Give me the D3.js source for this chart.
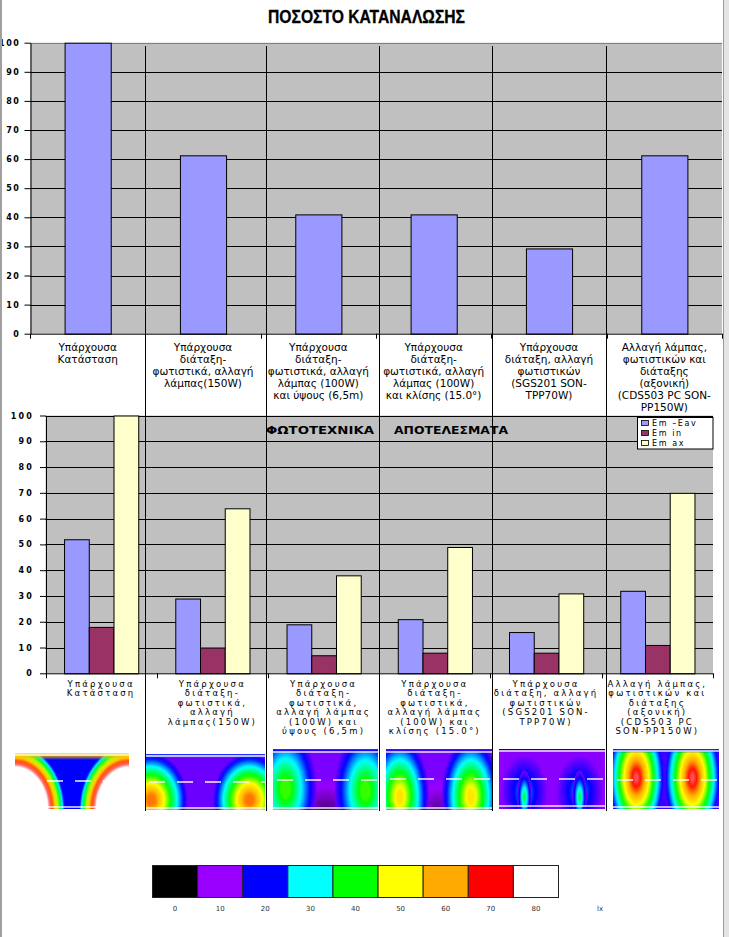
<!DOCTYPE html>
<html><head><meta charset="utf-8">
<script src="https://cdn.jsdelivr.net/npm/d3@7"></script>
<style>body{margin:0;background:#fff}svg{display:block}</style>
</head><body><svg id="c" width="729" height="937"></svg>
<script>
// ---------------- data ----------------
const titleText = "ΠΟΣΟΣΤΟ ΚΑΤΑΝΑΛΩΣΗΣ";
const subTitleParts = ["ΦΩΤΟΤΕΧΝΙΚΑ", "ΑΠΟΤΕΛΕΣΜΑΤΑ"];
const topLabels = [
  ["Υπάρχουσα", "Κατάσταση"],
  ["Υπάρχουσα", "διάταξη-", "φωτιστικά, αλλαγή", "λάμπας(150W)"],
  ["Υπάρχουσα", "διάταξη-", "φωτιστικά, αλλαγή", "λάμπας (100W)", "και ύψους (6,5m)"],
  ["Υπάρχουσα", "διάταξη-", "φωτιστικά, αλλαγή", "λάμπας (100W)", "και κλίσης (15.0°)"],
  ["Υπάρχουσα", "διάταξη, αλλαγή", "φωτιστικών", "(SGS201 SON-", "TPP70W)"],
  ["Αλλαγή λάμπας,", "φωτιστικών και", "διάταξης", "(αξονική)", "(CDS503 PC SON-", "PP150W)"]
];
const bottomLabels = [
  ["Υπάρχουσα", "Κατάσταση"],
  ["Υπάρχουσα", "διάταξη-", "φωτιστικά,", "αλλαγή", "λάμπας(150W)"],
  ["Υπάρχουσα", "διάταξη-", "φωτιστικά,", "αλλαγή λάμπας", "(100W) και", "ύψους (6,5m)"],
  ["Υπάρχουσα", "διάταξη-", "φωτιστικά,", "αλλαγή λάμπας", "(100W) και", "κλίσης (15.0°)"],
  ["Υπάρχουσα", "διάταξη, αλλαγή", "φωτιστικών", "(SGS201 SON-", "TPP70W)"],
  ["Αλλαγή λάμπας,", "φωτιστικών και", "διάταξης", "(αξονική)", "(CDS503 PC", "SON-PP150W)"]
];
const consumption = [100, 61.3, 41, 41, 29.3, 61.3];
const seriesNames = ["Em –Eav", "Em in", "Em ax"];
const emEav = [52, 29, 19, 21, 16, 32];
const emMin = [18, 10, 7, 8, 8, 11];
const emMax = [100, 64, 38, 49, 31, 70];
const yTickValues = [0, 10, 20, 30, 40, 50, 60, 70, 80, 90, 100];
const scaleLevels = [0, 10, 20, 30, 40, 50, 60, 70, 80];
const scaleUnit = "lx";

// ---------------- styles ----------------
const barBlue = "#9999ff", barMaroon = "#993366", barYellow = "#ffffcc", plotGray = "#c0c0c0";
const seriesColors = [barBlue, barMaroon, barYellow];
const scaleColors = ["#000000", "#9900ff", "#0000ff", "#00ffff", "#00ff00", "#ffff00", "#ffaa00", "#ff0000", "#ffffff"];
const FONT = "'DejaVu Sans', Verdana, sans-serif";

const svg = d3.select("#c");
svg.append("rect").attr("width", 729).attr("height", 937).attr("fill", "#fff");

// ---------------- top chart ----------------
const T = {l: 30, r: 722, t: 42.7, b: 333.7};
const xTop = d3.scaleBand().domain(d3.range(consumption.length)).range([T.l, T.r]).paddingInner(0.6).paddingOuter(0.3);
const yTop = d3.scaleLinear().domain([0, 100]).range([T.b, T.t]);
const gt = svg.append("g");
gt.append("rect").attr("x", T.l).attr("y", T.t).attr("width", T.r - T.l).attr("height", T.b - T.t).attr("fill", plotGray);
gt.selectAll("line.grid").data(yTickValues.filter(v => v > 0)).join("line")
  .attr("x1", T.l).attr("x2", T.r).attr("y1", d => Math.round(yTop(d)) + 0.5).attr("y2", d => Math.round(yTop(d)) + 0.5)
  .attr("stroke", d => d === 100 ? "#808080" : "#000").attr("stroke-width", 1);
gt.selectAll("rect.bar").data(consumption).join("rect")
  .attr("x", (d, i) => xTop(i) + 0.5).attr("y", d => yTop(d) + 0.5)
  .attr("width", xTop.bandwidth()).attr("height", d => yTop(0) - yTop(d))
  .attr("fill", barBlue).attr("stroke", "#000").attr("stroke-width", 1);
const axTop = gt.append("g").attr("transform", `translate(${T.l + 0.5},0)`)
  .call(d3.axisLeft(yTop).tickValues(yTickValues).tickSize(6).tickPadding(4).tickSizeOuter(0));
axTop.selectAll("text").attr("font-family", FONT).attr("font-size", 8).attr("font-weight", "bold").attr("letter-spacing", 1.6).attr("fill", "#000");
axTop.select(".domain").attr("stroke", "#000");
gt.append("line").attr("x1", T.l).attr("x2", T.r).attr("y1", T.b + 0.5).attr("y2", T.b + 0.5).attr("stroke", "#000");
gt.selectAll("line.tb").data(d3.range(consumption.length + 1)).join("line")
  .attr("x1", i => Math.round(T.l + i * xTop.step()) + 0.5).attr("x2", i => Math.round(T.l + i * xTop.step()) + 0.5)
  .attr("y1", T.b).attr("y2", T.b + 5).attr("stroke", "#000");
topLabels.forEach((lines, i) => {
  const cx = xTop(i) + xTop.bandwidth() / 2;
  const t = gt.append("text").attr("font-family", FONT).attr("font-size", 10.5).attr("text-anchor", "middle").attr("fill", "#000");
  lines.forEach((s, k) => t.append("tspan").attr("x", cx).attr("y", 351 + k * 12).text(s));
});

// title
svg.append("text").attr("x", 268).attr("y", 23).attr("textLength", 197).attr("lengthAdjust", "spacingAndGlyphs")
  .attr("font-family", "'Liberation Sans Narrow', 'Liberation Sans', Arial, sans-serif").attr("font-weight", "bold")
  .attr("font-size", 17.5).attr("fill", "#000").attr("stroke", "#000").attr("stroke-width", 0.3).text(titleText);

// ---------------- bottom chart ----------------
const B = {l: 45.5, r: 713, t: 415.5, b: 673.3};
const xBot = d3.scaleBand().domain(d3.range(emEav.length)).range([B.l, B.r]).paddingInner(0.333).paddingOuter(0.1667);
const xSub = d3.scaleBand().domain(d3.range(3)).range([0, xBot.bandwidth()]);
const yBot = d3.scaleLinear().domain([0, 100]).range([B.b, B.t]);
const gb = svg.append("g");
gb.append("rect").attr("x", B.l).attr("y", B.t).attr("width", B.r - B.l).attr("height", B.b - B.t).attr("fill", plotGray);
gb.selectAll("line.grid").data(yTickValues.filter(v => v > 0)).join("line")
  .attr("x1", B.l).attr("x2", B.r).attr("y1", d => Math.round(yBot(d)) + 0.5).attr("y2", d => Math.round(yBot(d)) + 0.5)
  .attr("stroke", "#000");
const series = [emEav, emMin, emMax];
series.forEach((vals, s) => {
  gb.selectAll(`rect.s${s}`).data(vals).join("rect")
    .attr("x", (d, i) => xBot(i) + xSub(s) + 0.5).attr("y", d => yBot(d) + 0.5)
    .attr("width", xSub.bandwidth()).attr("height", d => yBot(0) - yBot(d))
    .attr("fill", seriesColors[s]).attr("stroke", "#000").attr("stroke-width", 1);
});
const axBot = gb.append("g").attr("transform", `translate(${B.l + 0.5},0)`)
  .call(d3.axisLeft(yBot).tickValues(yTickValues).tickSize(6).tickPadding(6).tickSizeOuter(0));
axBot.selectAll("text").attr("font-family", FONT).attr("font-size", 8).attr("font-weight", "bold").attr("letter-spacing", 2.2).attr("fill", "#000");
axBot.select(".domain").attr("stroke", "#000");
gb.append("line").attr("x1", B.l).attr("x2", B.r).attr("y1", B.b + 0.5).attr("y2", B.b + 0.5).attr("stroke", "#000");
gb.selectAll("line.tb").data(d3.range(emEav.length + 1)).join("line")
  .attr("x1", i => Math.round(B.l + i * xBot.step()) + 0.5).attr("x2", i => Math.round(B.l + i * xBot.step()) + 0.5)
  .attr("y1", B.b).attr("y2", B.b + 5).attr("stroke", "#000");
bottomLabels.forEach((lines, i) => {
  const cx = xBot(i) + xBot.bandwidth() / 2;
  const t = gb.append("text").attr("font-family", FONT).attr("font-size", 8.5).attr("letter-spacing", 2.2)
    .attr("text-anchor", "middle").attr("fill", "#000");
  lines.forEach((s, k) => t.append("tspan").attr("x", cx).attr("y", 687 + k * 9.4).text(s));
});
const st = gb.append("g").attr("font-family", FONT).attr("font-weight", "bold").attr("font-size", 11).attr("fill", "#000");
st.append("text").attr("x", 266).attr("y", 434).attr("textLength", 108).attr("lengthAdjust", "spacingAndGlyphs").text(subTitleParts[0]);
st.append("text").attr("x", 394).attr("y", 434).attr("textLength", 114).attr("lengthAdjust", "spacingAndGlyphs").text(subTitleParts[1]);
const lg = gb.append("g");
lg.append("rect").attr("x", 637.5).attr("y", 417.5).attr("width", 75.5).attr("height", 31.5).attr("fill", "#fff").attr("stroke", "#000");
seriesNames.forEach((n, s) => {
  const y = 423 + s * 10;
  lg.append("rect").attr("x", 641.5).attr("y", y - 2.5).attr("width", 7).attr("height", 5).attr("fill", seriesColors[s]).attr("stroke", "#000").attr("stroke-width", 0.8);
  lg.append("text").attr("x", 652).attr("y", y + 3).attr("font-family", FONT).attr("font-size", 8).attr("letter-spacing", 1.6).attr("fill", "#000").text(n);
});

// ---------------- heat maps (illustrative renders) ----------------
const levelColor = d3.scaleLinear().domain(scaleLevels).range(scaleColors).clamp(true);
const defs = svg.append("defs");
const heatPanels = [
  {x0: 15, x1: 129, y0: 753, y1: 809, bg: 20, top: 755, bot: 807, mid: 781, band: 58, bandH: 7,
   blobs: [{cx: 0.0, cy: 1.0, rx: 0.44, ry: 1.15, peak: 88, plateau: 0.62}, {cx: 1.0, cy: 1.0, rx: 0.44, ry: 1.15, peak: 88, plateau: 0.62}]},
  {x0: 145, x1: 265, y0: 754, y1: 810, bg: 13, top: 756, bot: 808, mid: 782, band: 25, bandH: 4,
   blobs: [{cx: 0.05, cy: 0.82, rx: 0.31, ry: 0.85, peak: 63, plateau: 0.12}, {cx: 0.87, cy: 0.82, rx: 0.31, ry: 0.85, peak: 63, plateau: 0.12}]},
  {x0: 273, x1: 378, y0: 749, y1: 810, bg: 12, top: 752, bot: 808, mid: 780, band: 18, bandH: 4,
   blobs: [{cx: 0.5, cy: 1.05, rx: 0.35, ry: 0.6, peak: 5, plateau: 0.1}, {cx: 0.12, cy: 0.65, rx: 0.3, ry: 1.0, peak: 42, plateau: 0.15}, {cx: 0.88, cy: 0.68, rx: 0.3, ry: 1.0, peak: 42, plateau: 0.15}]},
  {x0: 386, x1: 492, y0: 749, y1: 810, bg: 12, top: 752, bot: 808, mid: 779, band: 16, bandH: 4,
   blobs: [{cx: 0.5, cy: 1.05, rx: 0.3, ry: 0.6, peak: 6, plateau: 0.1}, {cx: 0.13, cy: 0.78, rx: 0.28, ry: 1.0, peak: 53, plateau: 0.1}, {cx: 0.8, cy: 0.78, rx: 0.28, ry: 1.0, peak: 53, plateau: 0.1}]},
  {x0: 499, x1: 605, y0: 749, y1: 809, bg: 11, top: 751, bot: 806, mid: 779, band: 8, bandH: 4,
   blobs: [{cx: 0.24, cy: 0.72, rx: 0.22, ry: 0.62, peak: 26, plateau: 0.1}, {cx: 0.76, cy: 0.72, rx: 0.22, ry: 0.62, peak: 26, plateau: 0.1},
           {cx: 0.24, cy: 0.8, rx: 0.07, ry: 0.45, peak: 38, plateau: 0.05}, {cx: 0.76, cy: 0.8, rx: 0.07, ry: 0.45, peak: 38, plateau: 0.05}]},
  {x0: 613, x1: 719, y0: 749, y1: 809, bg: 16, top: 751, bot: 807, mid: 780, band: 20, bandH: 4,
   blobs: [{cx: 0.22, cy: 0.48, rx: 0.26, ry: 1.0, peak: 73, plateau: 0.08}, {cx: 0.75, cy: 0.48, rx: 0.26, ry: 1.0, peak: 73, plateau: 0.08}]}
];
const gh = svg.append("g");
heatPanels.forEach((p, pi) => {
  const w = p.x1 - p.x0, h = p.y1 - p.y0;
  defs.append("clipPath").attr("id", `hc${pi}`).append("rect").attr("x", p.x0).attr("y", p.y0).attr("width", w).attr("height", h);
  const g = gh.append("g").attr("clip-path", `url(#hc${pi})`);
  g.append("rect").attr("x", p.x0).attr("y", p.y0).attr("width", w).attr("height", h).attr("fill", levelColor(p.bg));
  const lgid = `hb${pi}`;
  const lgr = defs.append("linearGradient").attr("id", lgid).attr("x1", 0).attr("y1", 0).attr("x2", 0).attr("y2", 1);
  lgr.append("stop").attr("offset", 0).attr("stop-color", levelColor(p.band - 8)).attr("stop-opacity", 1);
  lgr.append("stop").attr("offset", 0.35).attr("stop-color", levelColor(p.band)).attr("stop-opacity", 0.9);
  lgr.append("stop").attr("offset", 1).attr("stop-color", levelColor(p.band)).attr("stop-opacity", 0);
  p.blobs.forEach((b, bi) => {
    const id = `rg${pi}_${bi}`;
    const rg = defs.append("radialGradient").attr("id", id);
    const N = 20;
    for (let k = 0; k <= N; k++) {
      const t = k / N;
      const f = t <= b.plateau ? 0 : (t - b.plateau) / (1 - b.plateau);
      const L = b.peak + (p.bg - b.peak) * f;
      rg.append("stop").attr("offset", t).attr("stop-color", levelColor(L)).attr("stop-opacity", k === N ? 0 : 1);
    }
    g.append("ellipse").attr("cx", p.x0 + b.cx * w).attr("cy", p.y0 + b.cy * h)
      .attr("rx", b.rx * w).attr("ry", b.ry * h).attr("fill", `url(#${id})`);
  });
  g.append("rect").attr("x", p.x0).attr("y", p.y0).attr("width", w).attr("height", p.bandH).attr("fill", `url(#${lgid})`);
  [p.top, p.bot].forEach(y => g.append("line").attr("x1", p.x0).attr("x2", p.x1).attr("y1", y).attr("y2", y).attr("stroke", "#fff").attr("stroke-width", 1.5).attr("opacity", 0.9));
  g.append("line").attr("x1", p.x0).attr("x2", p.x1).attr("y1", p.mid).attr("y2", p.mid)
    .attr("stroke", "#fff").attr("stroke-width", 1.6).attr("stroke-dasharray", "16,12").attr("stroke-dashoffset", -4).attr("opacity", 0.95);
});

// table cell dividers
const dividers = [144.6, 265.5, 378.6, 492, 605.6];
svg.append("g").selectAll("line").data(dividers).join("line")
  .attr("x1", d => Math.round(d) + 0.5).attr("x2", d => Math.round(d) + 0.5).attr("y1", 46).attr("y2", 811)
  .attr("stroke", "#000").attr("stroke-width", 1);

// ---------------- colour scale ----------------
const xs = d3.scaleBand().domain(scaleLevels).range([152.5, 558.5]);
const gs = svg.append("g");
gs.selectAll("rect").data(scaleLevels).join("rect")
  .attr("x", d => xs(d)).attr("y", 865.5).attr("width", xs.bandwidth()).attr("height", 32)
  .attr("fill", d => levelColor(d)).attr("stroke", "#222").attr("stroke-width", 1);
gs.selectAll("text").data(scaleLevels).join("text")
  .attr("x", d => xs(d) + xs.bandwidth() / 2).attr("y", 911).attr("text-anchor", "middle")
  .attr("font-family", FONT).attr("font-size", 7).attr("fill", "#333").text(d => d);
gs.append("text").attr("x", 600).attr("y", 911).attr("text-anchor", "middle").attr("font-family", FONT).attr("font-size", 7).attr("fill", "#333").text(scaleUnit);

// window edges
svg.append("rect").attr("x", 0).attr("y", 0).attr("width", 2).attr("height", 937).attr("fill", "#a0a0a0");
svg.append("rect").attr("x", 723).attr("y", 0).attr("width", 6).attr("height", 937).attr("fill", "#e4e4e4");
svg.append("line").attr("x1", 723.5).attr("x2", 723.5).attr("y1", 0).attr("y2", 937).attr("stroke", "#9a9a9a");
</script></body></html>
